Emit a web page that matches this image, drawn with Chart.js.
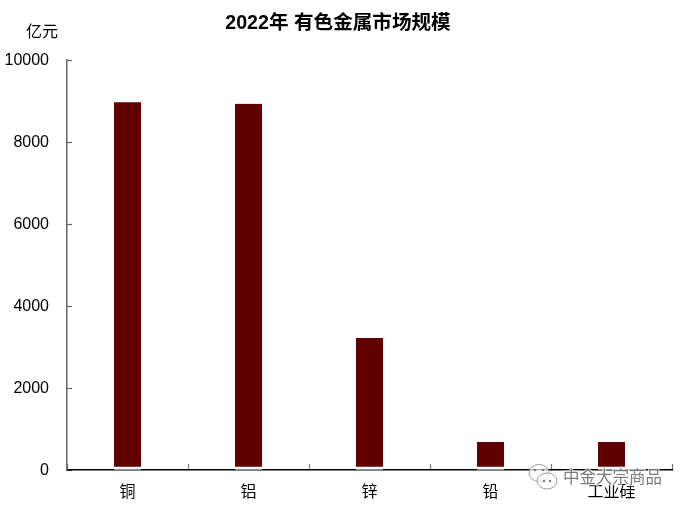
<!DOCTYPE html>
<html><head><meta charset="utf-8">
<style>html,body{margin:0;padding:0;background:#fff}canvas{display:block}</style>
<script src="https://cdn.jsdelivr.net/npm/chart.js@4"></script></head>
<body><canvas id="c" width="685" height="507"></canvas>
<script>
const categories=['铜','铝','锌','铅','工业硅'];
const marketSize=[8970,8930,3220,680,680];
const yTicks=[0,2000,4000,6000,8000,10000];
const chartTitle='2022年 有色金属市场规模';
const unitLabel='亿元';
const watermark='中金大宗商品';
const FONT='"Liberation Sans","Noto Sans CJK SC",sans-serif';
const overlay={id:'overlay',afterDraw(ch){
  const c=ch.ctx;c.save();
  c.fillStyle='#000';c.font='16px '+FONT;c.textAlign='center';c.textBaseline='middle';
  c.fillText(unitLabel,42,33);
  c.font='bold 19.6px '+FONT;c.fillText(chartTitle,338,24);
  c.strokeStyle='#a0a0a0';c.fillStyle='rgba(255,255,255,0.7)';c.lineWidth=1;
  c.beginPath();c.ellipse(539,473,10,8.5,0,0,Math.PI*2);c.fill();c.stroke();
  c.beginPath();c.ellipse(547,481,10,8,0,0,Math.PI*2);c.fill();c.stroke();
  c.fillStyle='#777';
  [[535,470],[543,470],[544,481],[550,481]].forEach(p=>{c.beginPath();c.arc(p[0],p[1],1.2,0,Math.PI*2);c.fill();});
  c.font='16.5px "Noto Sans CJK SC",sans-serif';c.textAlign='left';
  c.lineWidth=2.5;c.strokeStyle='rgba(255,255,255,0.7)';c.strokeText(watermark,563,477);
  c.fillStyle='rgba(110,110,110,0.9)';c.fillText(watermark,563,477);
  c.restore();
}};
new Chart(document.getElementById('c'),{
  type:'bar',
  data:{labels:categories,datasets:[{data:marketSize,backgroundColor:'#600000',
    borderColor:'#ffffff',borderWidth:{top:0,left:0,right:0,bottom:3},borderSkipped:false,
    barThickness:27}]},
  plugins:[overlay],
  options:{responsive:false,animation:false,
    layout:{padding:{top:60,right:13,left:0,bottom:0}},
    plugins:{legend:{display:false},title:{display:false},tooltip:{enabled:false}},
    scales:{
      x:{grid:{display:true,drawOnChartArea:false,drawTicks:true,tickLength:-6,color:'#777',tickWidth:1.2},
        border:{display:true,color:'#000',width:1.5},
        afterFit(s){s.height=37;},
        ticks:{color:'#000',font:{size:16,family:FONT},padding:19,maxRotation:0}},
      y:{min:0,max:10000,
        afterBuildTicks(s){s.ticks=yTicks.map(v=>({value:v}));},
        afterFit(s){s.width=67;},
        grid:{display:true,drawOnChartArea:false,drawTicks:true,tickLength:-5,color:'#666',tickWidth:1.2},
        border:{display:true,color:'#666',width:1.5},
        ticks:{color:'#000',font:{size:16,family:FONT},padding:23,labelOffset:1,callback:v=>String(v)}}
    }}
});
</script></body></html>
